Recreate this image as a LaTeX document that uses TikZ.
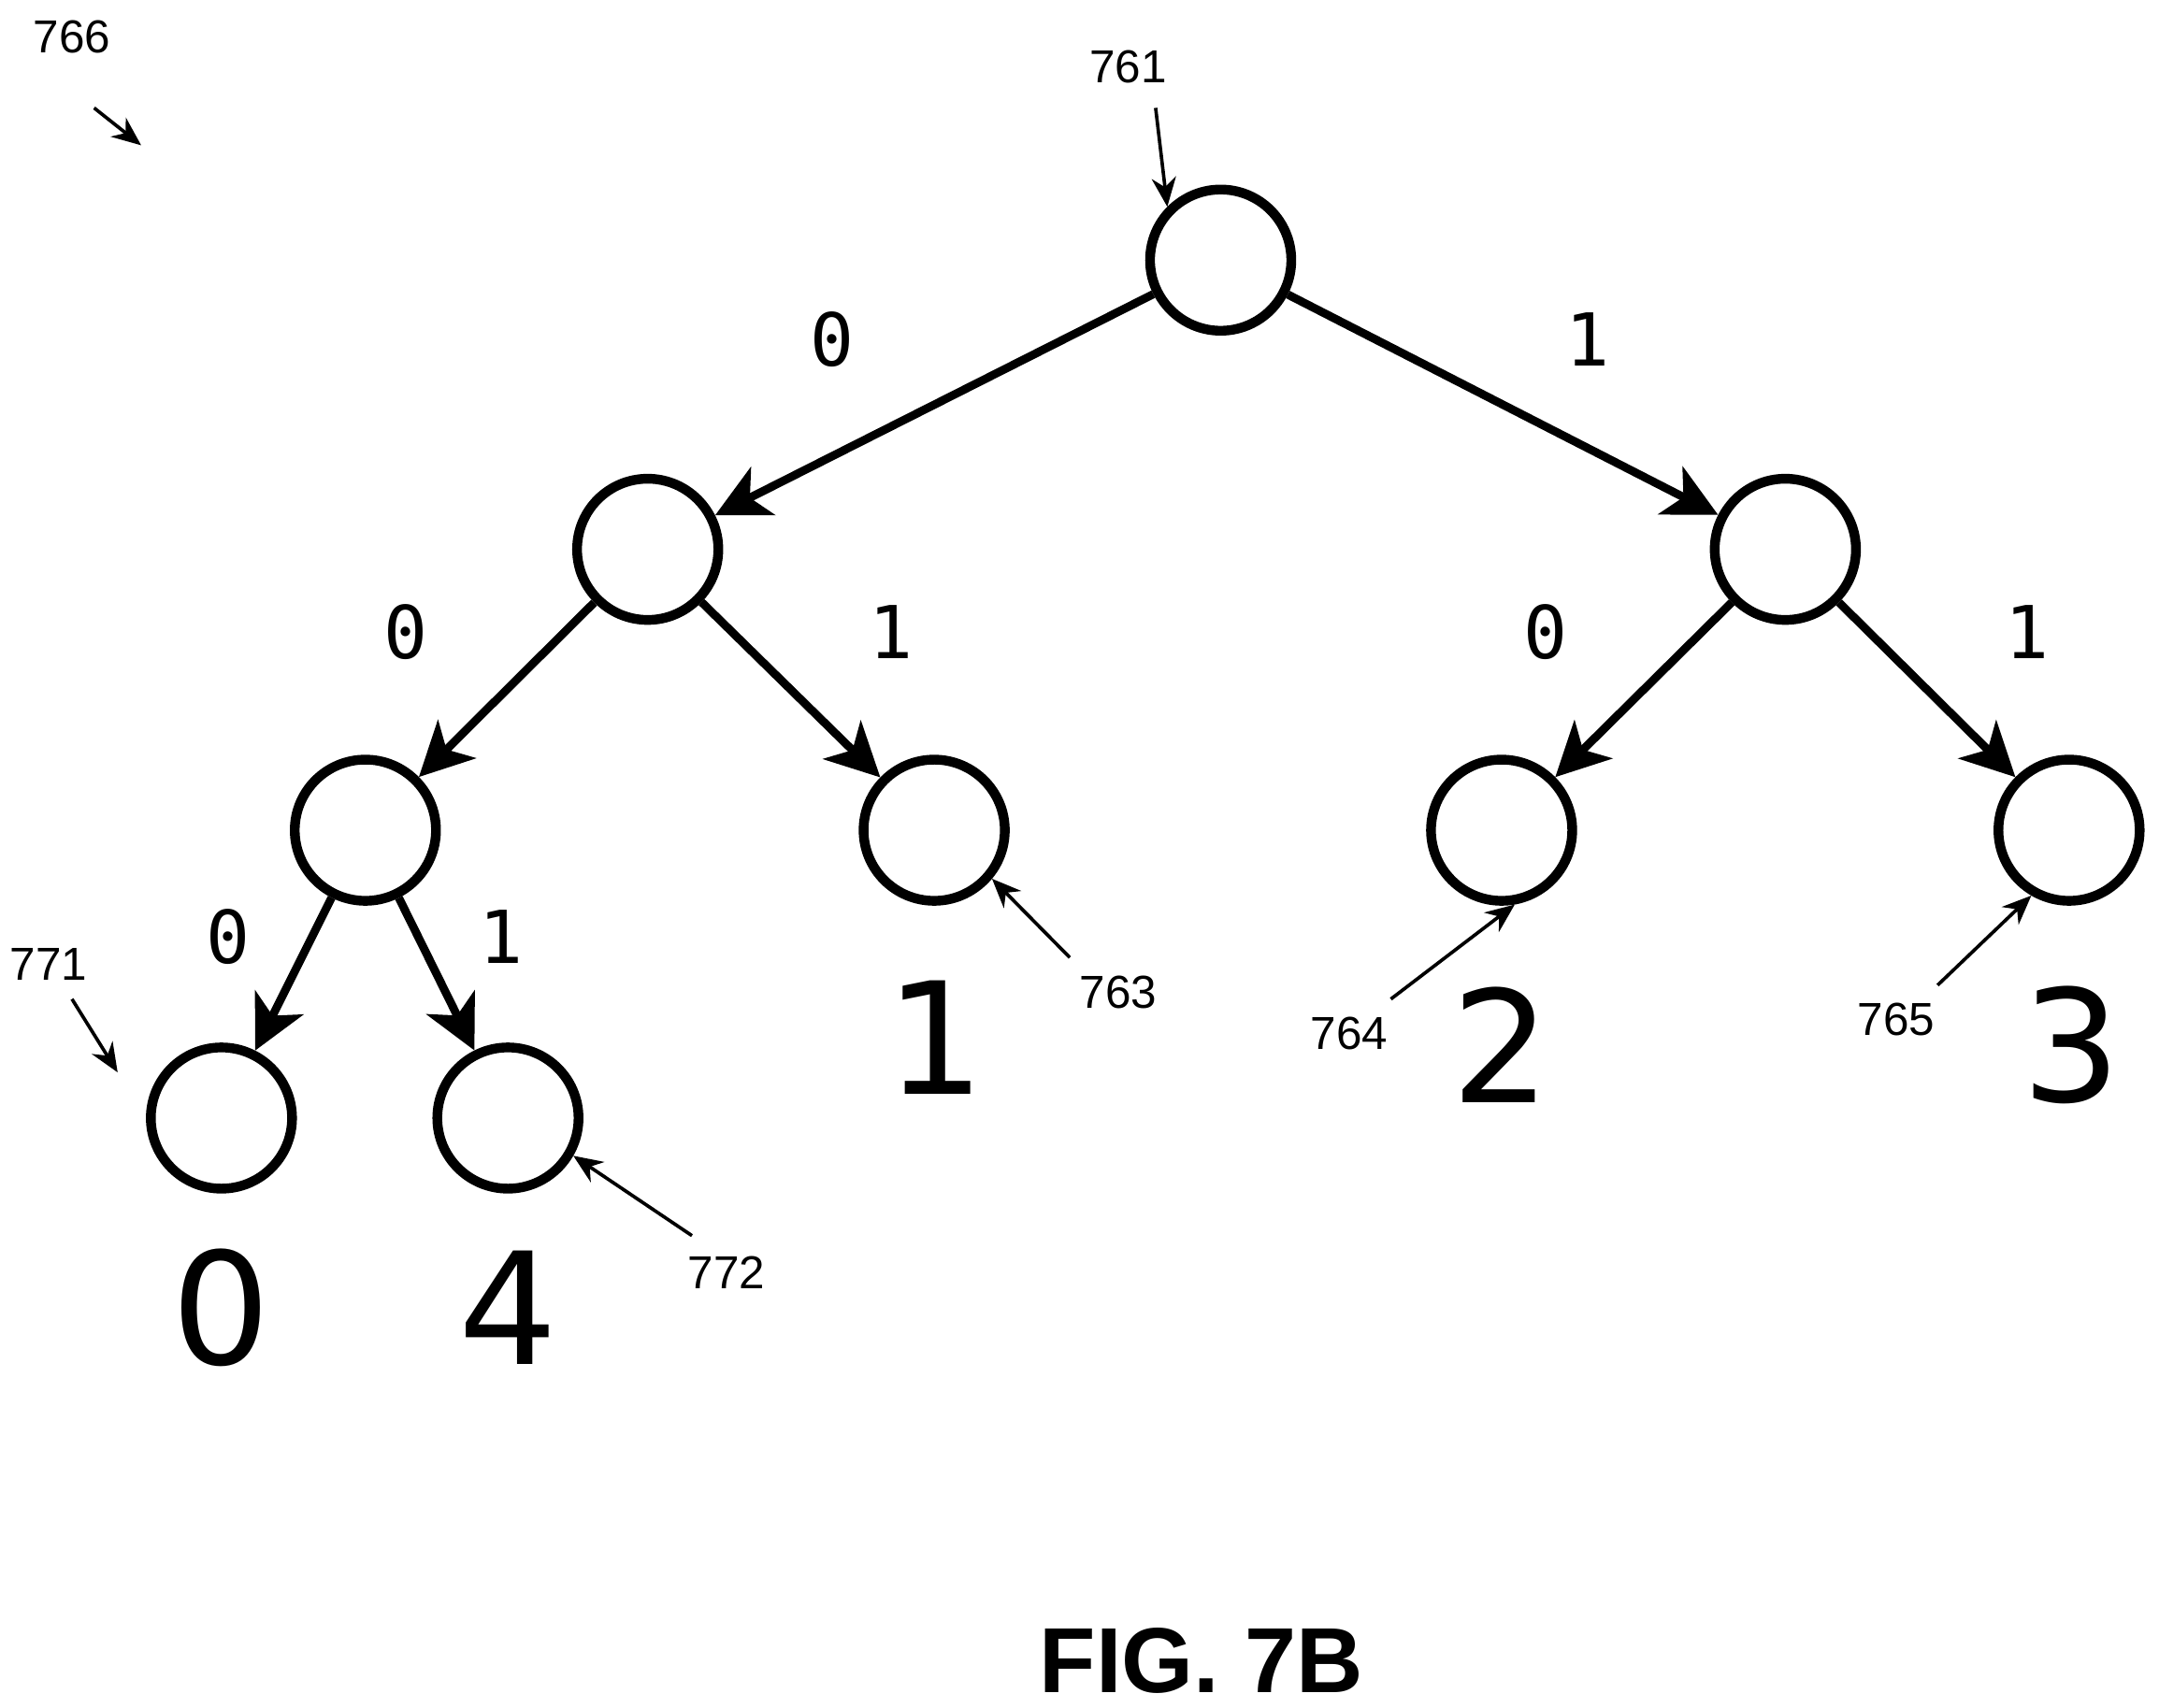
\documentclass[tikz,border=0pt]{standalone}
\usepackage{fontspec}
\setmainfont{Liberation Sans}
\newfontfamily\digitfont{DejaVu Sans}
\newfontfamily\bitfont{DejaVu Sans Mono}
\usetikzlibrary{positioning, arrows.meta}

\begin{document}
\begin{tikzpicture}[x=0.01cm, y=-0.01cm,
    state/.style={circle, draw=black, line width=2pt, minimum size=1.02cm, inner sep=0pt},
    edge/.style={line width=1.7pt, -{Stealth[length=11pt, width=11pt, inset=3pt]}},
    bit/.style={font=\bitfont\fontsize{15}{15}\selectfont},
    leaf/.style={font=\digitfont\fontsize{32}{32}\selectfont},
    refnum/.style={font=\fontsize{9.5}{10}\selectfont},
    refarrow/.style={line width=0.7pt, -{Stealth[length=6pt, width=5pt]}}]
            \useasboundingbox (0,0) rectangle (1560,1234);

            \node[state] (root) at (882, 188) {};
            \node[state] (l) at (468, 397) {};
            \node[state] (r) at (1290, 397) {};
            \node[state] (ll) at (264, 600) {};
            \node[state] (lr) at (675, 600) {};
            \node[state] (rl) at (1085, 600) {};
            \node[state] (rr) at (1495, 600) {};
            \node[state] (lll) at (160, 808) {};
            \node[state] (llr) at (367, 808) {};

            \draw[edge] (root) -- (l);
            \draw[edge] (root) -- (r);
            \draw[edge] (l) -- (ll);
            \draw[edge] (l) -- (lr);
            \draw[edge] (r) -- (rl);
            \draw[edge] (r) -- (rr);
            \draw[edge] (ll) -- (lll);
            \draw[edge] (ll) -- (llr);

            \node[bit] (b1) at (601, 245) {0};
            \node[bit] (b2) at (1147, 245) {1};
            \node[bit] (b3) at (293, 457) {0};
            \node[bit] (b4) at (644, 457) {1};
            \node[bit] (b5) at (1117, 457) {0};
            \node[bit] (b6) at (1465, 457) {1};
            \node[bit] (b7) at (165, 677) {0};
            \node[bit] (b8) at (362, 677) {1};

            \node[leaf] (v1) at (676, 750) {1};
            \node[leaf] (v2) at (1085, 755) {2};
            \node[leaf] (v3) at (1497, 755) {3};
            \node[leaf] (v0) at (160, 945) {0};
            \node[leaf] (v4) at (367, 945) {4};

            % reference numerals
            \node[refnum] (n766) at (52, 27) {766};
            \node[refnum] (n761) at (815, 48) {761};
            \node[refnum] (n763) at (808, 717) {763};
            \node[refnum] (n764) at (975, 747) {764};
            \node[refnum] (n765) at (1370, 737) {765};
            \node[refnum] (n771) at (35, 697) {771};
            \node[refnum] (n772) at (525, 920) {772};
            \coordinate (p766) at (102, 105);
            \coordinate (p771) at (85, 775);
            \draw[refarrow] (68, 78) -- (p766);
            \draw[refarrow] (835, 78) -- (root.north west);
            \draw[refarrow] (n763) ++(-35, -25) -- (lr.-40);
            \draw[refarrow] (n764) ++(30, -25) -- (rl.-80);
            \draw[refarrow] (n765) ++(30, -25) -- (rr.-120);
            \draw[refarrow] (n771) ++(17, 25) -- (p771);
            \draw[refarrow] (n772) ++(-25, -27) -- (llr.-30);

            \node[font=\bfseries\fontsize{19}{19}\selectfont] (fig) at (868, 1200) {FIG. 7B};
\end{tikzpicture}
\end{document}
